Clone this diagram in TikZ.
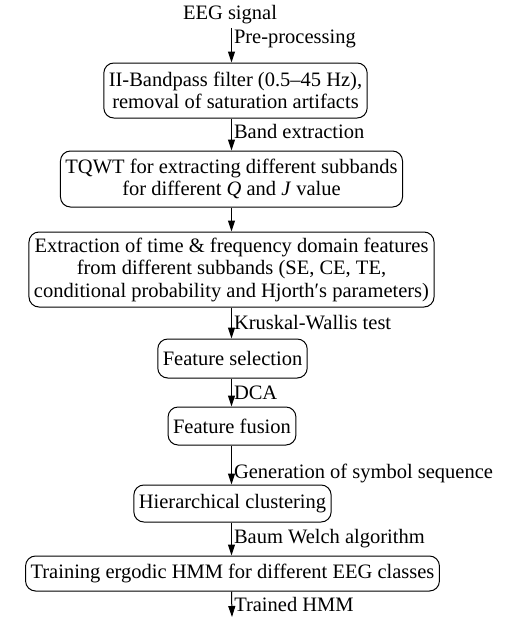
\documentclass[tikz,border=0pt]{standalone}
\usepackage{fontspec}
\setmainfont{Liberation Serif}
\usetikzlibrary{arrows.meta,positioning}

\begin{document}
\begin{tikzpicture}[x=1pt,y=-1pt,
  font=\fontsize{20.5}{22.5}\selectfont,
  stage/.style={draw=black,rounded corners=10pt,align=center,inner xsep=5pt,inner ysep=3pt,line width=1pt},
  lbl/.style={right,inner sep=2pt},
  flow/.style={draw=black,line width=1pt,-{Triangle[length=11pt,width=7pt]}}
]
\useasboundingbox (0,0) rectangle (514,619);
\node (sig) at (230,15) {EEG signal};
\node[stage,minimum height=55pt] (s1) at (235.5,90.5) {II-Bandpass filter (0.5--45 Hz),\\ removal of saturation artifacts};
\node[stage,minimum height=56pt] (s2) at (231.5,179) {TQWT for extracting different subbands\\ for different \textit{Q} and \textit{J} value};
\node[stage,minimum height=75pt] (s3) at (231.5,269.5) {Extraction of time \& frequency domain features\\ from different subbands (SE, CE, TE,\\ conditional probability and Hjorth′s parameters)};
\node[stage,minimum height=39pt] (s4) at (232.5,358.5) {Feature selection};
\node[stage,minimum height=38pt] (s5) at (232,426) {Feature fusion};
\node[stage,minimum height=37pt] (s6) at (232.5,503.5) {Hierarchical clustering};
\node[stage,minimum height=35pt] (s7) at (232.5,573.5) {Training ergodic HMM for different EEG classes};
\coordinate (out) at (232,617);

\foreach \a/\b/\p/\txt in {sig/s1/0.33/Pre-processing,s1/s2/0.4/Band extraction,s2/s3/0.5/,s3/s4/0.5/Kruskal-Wallis test,s4/s5/0.5/DCA,s5/s6/0.72/Generation of symbol sequence,s6/s7/0.5/Baum Welch algorithm}{
  \draw[flow] (\a.south -| s2) -- node[lbl,pos=\p]{\txt} (\b.north -| s2);}
\draw[flow] (s7.south -| s2) -- node[lbl,pos=0.5]{Trained HMM} (out);
\end{tikzpicture}
\end{document}
